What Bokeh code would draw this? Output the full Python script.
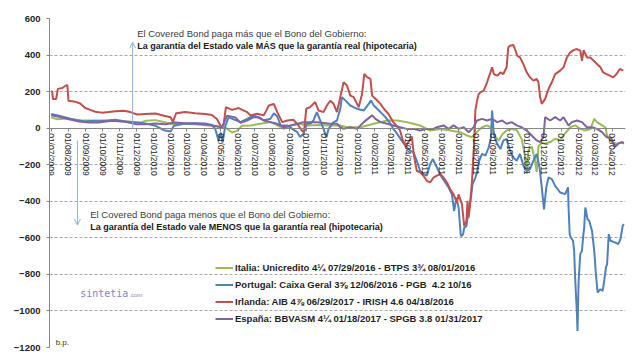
import math
import pandas as pd
from bokeh.plotting import figure
from bokeh.models import (Range1d, FixedTicker, DatetimeTickFormatter, Legend, LegendItem,
                          Label, Arrow, OpenHead)
from bokeh.embed import file_html
from bokeh.resources import INLINE

START = "2009-07-01"

TICK_LABELS = ["01/07/2009", "01/08/2009", "01/09/2009", "01/10/2009", "01/11/2009", "01/12/2009",
               "01/01/2010", "01/02/2010", "01/03/2010", "01/04/2010", "01/05/2010", "01/06/2010",
               "01/07/2010", "01/08/2010", "01/09/2010", "01/10/2010", "01/11/2010", "01/12/2010",
               "01/01/2011", "01/02/2011", "01/03/2011", "01/04/2011", "01/05/2011", "01/06/2011",
               "01/07/2011", "01/08/2011", "01/09/2011", "01/10/2011", "01/11/2011", "01/12/2011",
               "01/01/2012", "01/02/2012", "01/03/2012", "01/04/2012"]
Y_TICKS = [-1200, -1000, -800, -600, -400, -200, 0, 200, 400, 600]

LABELS = ["Italia: Unicredito 4¼ 07/29/2016 - BTPS 3¾ 08/01/2016",
          "Portugal: Caixa Geral 3⅝ 12/06/2016 - PGB  4.2 10/16",
          "Irlanda: AIB 4⅞ 06/29/2017 - IRISH 4.6 04/18/2016",
          "España: BBVASM 4¼ 01/18/2017 - SPGB 3.8 01/31/2017"]
COLORS = ["#9BBB59", "#4F81BD", "#C0504D", "#8064A2"]

# days since START, spread in b.p.
italia_day = [0, 11, 29, 53, 83, 113, 137, 161, 169, 187, 205, 217, 229, 258, 288, 312, 324, 333, 342,
              357, 375, 393, 405, 417, 429, 446, 458, 480, 500, 518, 530, 554, 578, 602, 620, 637, 649,
              661, 679, 697, 715, 733, 745, 754, 763, 772, 781, 790, 796, 802, 808, 816, 825, 834, 843,
              849, 852, 855, 861, 867, 870, 873, 879, 885, 894, 903, 912, 918, 930, 939, 948, 957, 966,
              973, 978, 987, 993, 996, 1004, 1013, 1026]
italia_val = [59, 49, 53, 44, 40, 40, 37, 31, 40, 44, 31, 22, 26, 22, 13, 4, -24, -15, 13,
              15, 24, 33, 15, -4, 15, 24, 15, 18, 15, 15, 5, 5, 24, 42, 42, 33, 24,
              15, -13, -4, -13, -22, -40, -49, -20, 5, 15, 0, -49, -67, -35, -13, -5, -10, -60,
              -150, -250, -120, -100, -180, -240, -100, -80, -85, -76, -58, -67, -40, 5, 15, -4, -13, -5,
              51, 33, 15, 5, -40, -76, -85, -76]

portugal_day = [0, 14, 26, 44, 61, 79, 97, 115, 133, 151, 169, 187, 202, 214, 220, 240, 258, 276, 288,
                294, 300, 304, 307, 312, 318, 330, 339, 351, 363, 372, 381, 393, 399, 405, 411, 423, 432,
                441, 446, 452, 458, 464, 470, 476, 482, 488, 493, 497, 506, 512, 518, 521, 527, 536, 548,
                560, 569, 573, 578, 590, 599, 608, 613, 620, 628, 637, 643, 649, 655, 661, 667, 673, 679,
                684, 688, 694, 700, 706, 712, 718, 722, 726, 730, 734, 738, 740, 744, 748, 752, 755, 760,
                763, 767, 772, 778, 784, 788, 790, 793, 799, 805, 810, 816, 822, 828, 834, 840, 846, 852,
                858, 864, 870, 875, 879, 883, 887, 891, 897, 903, 912, 921, 926, 927, 929, 931, 935, 937,
                939, 942, 943, 945, 948, 951, 953, 955, 957, 961, 964, 969, 973, 976, 979, 984, 988, 990,
                994, 996, 999, 1002, 1010, 1016, 1020, 1024, 1026]
portugal_val = [77, 68, 59, 44, 37, 40, 40, 46, 37, 31, 26, 13, -11, -18, 13, 26, 27, 26, 18,
                -5, -69, -24, -79, 13, 59, 45, 33, 51, 70, 57, 42, 51, 82, 64, 15, 15, -4,
                -22, -49, -31, 24, 24, 42, 88, 42, -4, -49, -4, 33, 42, 106, 170, 152, 124, 106,
                97, 133, 152, 124, 88, 60, 24, -4, -31, -68, -104, -123, -132, -178, -233, -251, -260, -196,
                -169, -196, -233, -270, -297, -325, -362, -453, -380, -435, -591, -582, -545, -536, -453, -380, -306, -270,
                -242, -178, -141, -150, -105, -50, 96, -31, -86, -114, -68, -59, -123, -160, -178, -141, -205, -233,
                -224, -178, -141, -215, -325, -444, -325, -270, -279, -316, -352, -361, -324, -434, -580, -598, -616, -671,
                -835, -1018, -1109, -835, -689, -671, -598, -543, -434, -498, -507, -562, -671, -799, -899, -881, -890, -854,
                -762, -744, -580, -616, -625, -634, -607, -534, -525]

irlanda_day = [0, 2, 3, 9, 12, 20, 27, 29, 31, 43, 52, 61, 70, 79, 91, 103, 115, 130, 142, 154, 169, 187,
               202, 214, 218, 224, 240, 258, 276, 288, 297, 305, 309, 313, 324, 336, 351, 357, 369, 381,
               390, 399, 405, 414, 423, 434, 443, 449, 453, 457, 464, 473, 479, 488, 494, 500, 506, 512,
               518, 524, 530, 536, 542, 551, 557, 561, 566, 572, 575, 581, 590, 596, 604, 613, 620, 625,
               630, 635, 641, 646, 650, 655, 661, 667, 673, 679, 685, 691, 697, 703, 709, 715, 721, 727,
               730, 736, 740, 744, 746, 748, 750, 754, 758, 760, 763, 766, 769, 775, 781, 787, 790, 793,
               799, 805, 810, 816, 819, 822, 828, 831, 835, 840, 846, 852, 858, 864, 870, 873, 876, 879,
               885, 891, 897, 903, 912, 918, 924, 930, 936, 942, 948, 951, 954, 960, 966, 972, 978, 984,
               989, 995, 1001, 1007, 1013, 1019, 1025]
irlanda_val = [200, 200, 160, 160, 215, 220, 235, 235, 150, 145, 135, 110, 100, 90, 85, 88, 93, 95, 88, 75, 78, 80,
               68, 60, 35, 82, 88, 82, 78, 72, 50, 5, 20, 115, 100, 110, 88, 70, 79, 70,
               124, 133, 88, 33, 42, 46, 15, -13, -22, 106, 115, 143, 97, 88, 124, 150, 133, 88,
               170, 251, 233, 178, 170, 115, 187, 297, 279, 270, 178, 161, 133, 106, 79, 33, 10, -13,
               -65, -100, -72, -45, -150, -233, -242, -260, -288, -297, -270, -260, -251, -270, -297, -334, -362, -407,
               -362, -417, -536, -508, -398, -490, -435, -288, -68, 96, 151, 187, 196, 205, 251, 305, 333, 296,
               287, 305, 296, 333, 442, 451, 455, 433, 396, 387, 351, 305, 278, 260, 269, 251, 169, 133,
               160, 214, 251, 296, 315, 333, 387, 415, 427, 433, 424, 369, 427, 387, 387, 369, 351, 333,
               305, 296, 287, 278, 296, 324, 315]

espana_day = [0, 14, 32, 50, 68, 85, 109, 133, 151, 169, 187, 205, 222, 240, 264, 288, 306, 315, 330, 339,
              351, 363, 372, 381, 393, 405, 417, 429, 441, 452, 476, 500, 512, 518, 524, 536, 548, 560, 575,
              581, 590, 602, 613, 625, 637, 649, 661, 673, 685, 691, 703, 712, 721, 730, 739, 748, 757, 763,
              772, 781, 790, 799, 808, 816, 825, 834, 843, 852, 861, 870, 876, 882, 885, 894, 903, 912, 918,
              927, 933, 942, 951, 960, 969, 978, 987, 995, 1004, 1010, 1016, 1022, 1026]
espana_val = [71, 62, 49, 37, 31, 31, 40, 35, 22, 22, 26, 22, 31, 27, 24, 16, 4, 68, 59, 30,
              42, 60, 60, 42, 33, 24, 5, 15, 24, 33, 33, 24, 24, 5, -4, 5, -4, 33, 70,
              51, 33, 24, 15, 5, -4, -4, -13, -4, -4, 5, 15, -4, 15, -4, 5, -22, 5, 42,
              51, 42, 51, 33, 42, 24, 33, 15, 5, -13, -40, -67, -76, -49, 60, 42, 60, 42, 60,
              15, 33, 42, 33, 5, 5, -4, -22, -49, -58, -104, -85, -76, -85]

start = pd.Timestamp(START)


def to_dates(days):
    return [start + pd.Timedelta(days=d) for d in days]


def ms(day):
    return (start + pd.Timedelta(days=day)).value / 1e6


tick_dates = pd.to_datetime(TICK_LABELS, format="%d/%m/%Y")
tick_ms = [d.value / 1e6 for d in tick_dates]

p = figure(width=640, height=361, x_axis_type="datetime", output_backend="svg",
           toolbar_location=None,
           x_range=Range1d(ms(-3), ms(1029)), y_range=Range1d(-1200, 600),
           min_border_left=49, min_border_right=15, min_border_top=18, min_border_bottom=14)
p.outline_line_color = None
p.background_fill_color = "white"
p.border_fill_color = "white"
p.styles = {"outline": "1px solid #D0D0D0", "outline-offset": "-3px"}

# axes
p.xaxis.fixed_location = 0
p.xaxis.ticker = FixedTicker(ticks=tick_ms)
fmt = "%d/%m/%Y"
p.xaxis.formatter = DatetimeTickFormatter(milliseconds=fmt, seconds=fmt, minsec=fmt, minutes=fmt,
                                          hourmin=fmt, hours=fmt, days=fmt, months=fmt, years=fmt)
p.xaxis.major_label_orientation = "vertical"
p.xaxis.major_label_text_font = "Liberation Sans"
p.xaxis.major_label_text_font_size = "8.5px"
p.xaxis.major_label_text_color = "#262626"
p.xaxis.major_label_standoff = 2
p.xaxis.axis_line_color = "#868686"
p.xaxis.major_tick_line_color = "#868686"
p.xaxis.major_tick_in = 0
p.xaxis.major_tick_out = 3
p.xaxis.minor_tick_line_color = None

p.yaxis.ticker = FixedTicker(ticks=Y_TICKS)
p.yaxis.major_label_text_font = "Liberation Sans"
p.yaxis.major_label_text_font_size = "9.5px"
p.yaxis.major_label_text_font_style = "bold"
p.yaxis.major_label_text_color = "#262626"
p.yaxis.axis_line_color = "#868686"
p.yaxis.major_tick_line_color = "#868686"
p.yaxis.major_tick_in = 0
p.yaxis.major_tick_out = 3
p.yaxis.minor_tick_line_color = None
p.yaxis.major_label_standoff = 6

p.xgrid.grid_line_color = None
p.ygrid.ticker = FixedTicker(ticks=Y_TICKS)
p.ygrid.grid_line_color = "#A6A6A6"
p.ygrid.grid_line_dash = "3 2"
p.ygrid.grid_line_width = 1

series = [(italia_day, italia_val), (portugal_day, portugal_val),
          (irlanda_day, irlanda_val), (espana_day, espana_val)]
renderers = []
for (d, v), c in zip(series, COLORS):
    r = p.line(to_dates(d), v, line_color=c, line_width=2)
    renderers.append(r)

legend = Legend(items=[LegendItem(label=l, renderers=[r]) for l, r in zip(LABELS, renderers)],
                location=(166, 20), orientation="vertical")
legend.glyph_width = 18
legend.glyph_height = 17
legend.label_height = 17
legend.label_standoff = 2
legend.spacing = 0
legend.padding = 0
legend.margin = 0
legend.border_line_color = None
legend.background_fill_alpha = 0
legend.label_text_font = "Liberation Sans"
legend.label_text_font_style = "bold"
legend.label_text_font_size = "9.5px"
legend.label_text_color = "#1F1F1F"
p.add_layout(legend, "center")

# annotations
arrow_color = "#8EB0D6"
p.add_layout(Arrow(end=OpenHead(size=6, line_color=arrow_color, line_width=1),
                   x_start=ms(146), y_start=0, x_end=ms(146), y_end=470,
                   line_color=arrow_color, line_width=1))
p.add_layout(Arrow(end=OpenHead(size=6, line_color=arrow_color, line_width=1),
                   x_start=ms(47), y_start=-68, x_end=ms(47), y_end=-530,
                   line_color=arrow_color, line_width=1))

def label(x, y, text, size, style="normal", color="#404040", font="Liberation Sans"):
    p.add_layout(Label(x=x, y=y, text=text, text_font=font, text_font_size=size,
                       text_font_style=style, text_color=color, text_baseline="middle"))

label(ms(154), 516, "El Covered Bond paga más que el Bono del Gobierno:", "9.5px")
label(ms(154), 452, "La garantía del Estado vale MÁS que la garantía real (hipotecaria)", "9px",
      "bold", "#1A1A1A")
label(ms(70), -470, "El Covered Bond paga menos que el Bono del Gobierno:", "9.5px")
label(ms(70), -538, "La garantía del Estado vale MENOS que la garantía real (hipotecaria)", "9px",
      "bold", "#1A1A1A")
label(ms(52), -907, "sintetia", "10px", "normal", "#8585C2", "DejaVu Sans Mono")
label(ms(140), -915, ".com", "6px", "normal", "#8585C2")
label(ms(8), -1172, "b.p.", "8px", "normal", "#333333")

open("out.html", "w").write(file_html(p, INLINE))
